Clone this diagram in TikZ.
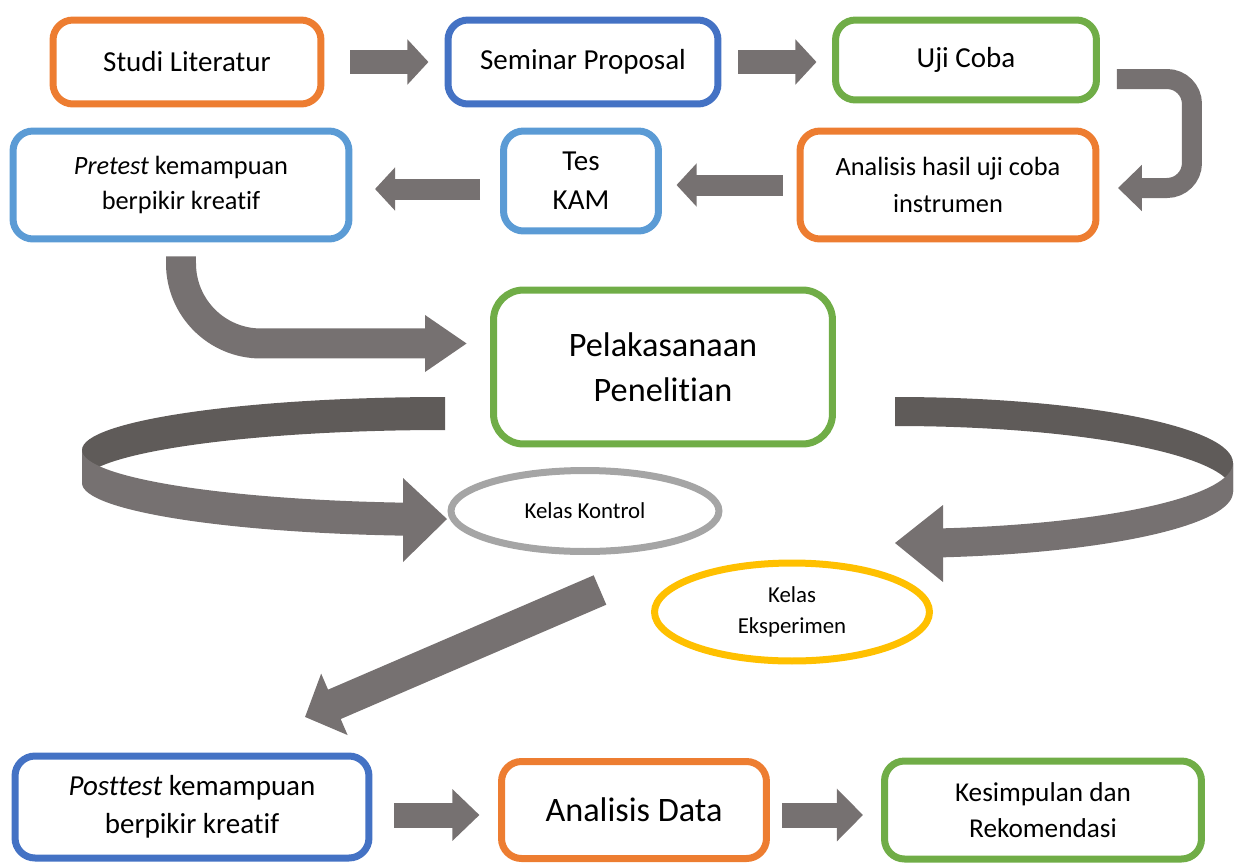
\documentclass[tikz,border=0pt]{standalone}
\usepackage{fontspec}
\setmainfont{Carlito}[Ligatures={NoCommon}]
\usetikzlibrary{arrows.meta,shapes.geometric}
\definecolor{boxorange}{HTML}{ED7D31}
\definecolor{boxblue}{HTML}{4472C4}
\definecolor{boxgreen}{HTML}{70AD47}
\definecolor{boxsky}{HTML}{5B9BD5}
\definecolor{ovalgray}{HTML}{A5A5A5}
\definecolor{ovalgold}{HTML}{FFC000}
\definecolor{arrowgray}{HTML}{767171}
\definecolor{ribbondark}{HTML}{5F5B59}

\begin{document}
\begin{tikzpicture}[x=0.02cm, y=-0.02cm,
	box/.style={draw=#1, line width=0.14cm, rounded corners=0.4cm, align=center, inner sep=2pt},
	oval/.style={draw=#1, line width=0.14cm, ellipse, align=center, inner sep=1pt, font=\fontsize{13}{17.5}\selectfont},
	fatarrow/.style={draw=arrowgray, line width=0.48cm, -{Triangle[length=0.42cm, width=0.88cm]}}]
	\useasboundingbox (0,0) rectangle (1235,863);
	% Nodes:
	\node[box=boxorange, minimum width=5.36cm, minimum height=1.68cm, font=\fontsize{16.5}{22}\selectfont] (studi) at (187,62) {Studi Literatur};
	\node[box=boxblue, minimum width=5.4cm, minimum height=1.68cm, font=\fontsize{16.5}{22}\selectfont] (seminar) at (583,62) {Seminar Proposal};
	\node[box=boxgreen, minimum width=5.22cm, minimum height=1.6cm, font=\fontsize{16.5}{22}\selectfont] (ujicoba) at (966,60) {Uji Coba};
	\node[box=boxorange, minimum width=5.92cm, minimum height=2.16cm, font=\fontsize{15}{21}\selectfont] (hasil) at (948,185) {Analisis hasil uji coba\\instrumen};
	\node[box=boxsky, minimum width=3.1cm, minimum height=2cm, font=\fontsize{16.5}{22}\selectfont] (teskam) at (581,181) {Tes\\KAM};
	\node[box=boxsky, minimum width=6.72cm, minimum height=2.16cm, font=\fontsize{15}{20}\selectfont] (pretest) at (181,185) {\textit{Pretest} kemampuan\\berpikir kreatif};
	\node[box=boxgreen, rounded corners=0.6cm, minimum width=6.78cm, minimum height=3.08cm, font=\fontsize{19.5}{25.5}\selectfont] (pelaksanaan) at (663,367) {Pelakasanaan\\Penelitian};
	\node[oval=ovalgray, minimum width=5.36cm, minimum height=1.62cm] (kontrol) at (585,511) {Kelas Kontrol};
	\node[oval=ovalgold, minimum width=5.5cm, minimum height=1.96cm] (eksperimen) at (792,612) {Kelas\\Eksperimen};
	\node[box=boxblue, minimum width=7.08cm, minimum height=2.04cm, font=\fontsize{16.5}{21.5}\selectfont] (posttest) at (192,807) {\textit{Posttest} kemampuan\\berpikir kreatif};
	\node[box=boxorange, minimum width=5.3cm, minimum height=1.94cm, font=\fontsize{19.5}{25}\selectfont] (analisisdata) at (634,810) {Analisis Data};
	\node[box=boxgreen, minimum width=6.34cm, minimum height=1.96cm, font=\fontsize{15.5}{20.5}\selectfont] (kesimpulan) at (1043,810) {Kesimpulan dan\\Rekomendasi};
	% Block arrows:
	\draw[fatarrow] ([xshift=0.52cm]studi.east) -- ++(78,0);
	\draw[fatarrow] ([xshift=0.34cm]seminar.east) -- ++(78,0);
	\draw[fatarrow, line width=0.42cm, -{Triangle[length=0.4cm, width=0.84cm]}] ([xshift=-0.28cm]hasil.west) -- ++(-106,0);
	\draw[fatarrow, line width=0.42cm, -{Triangle[length=0.4cm, width=0.84cm]}] ([xshift=-0.4cm, yshift=-0.16cm]teskam.west) -- ++(-105,0);
	\draw[fatarrow, line width=0.4cm, rounded corners=0.5cm, -{Triangle[length=0.48cm, width=0.9cm]}] ([xshift=0.34cm, yshift=-0.38cm]ujicoba.east) -- ++(75,0) -- ++(0,109) -- ++(-74,0);
	\draw[fatarrow, line width=0.6cm, rounded corners=1.6cm, -{Triangle[length=0.84cm, width=1.08cm]}] ([yshift=-0.28cm]pretest.south) -- ++(0,87) -- ++(286,0);
	\draw[fatarrow, line width=0.64cm, -{Triangle[length=0.64cm, width=1.3cm]}] ([xshift=0.3cm, yshift=-0.7cm]kontrol.south) -- ++(-295,127);
	\draw[fatarrow, line width=0.5cm, -{Triangle[length=0.54cm, width=1cm]}] ([xshift=0.44cm, yshift=-0.16cm]posttest.east) -- ++(85,0);
	\draw[fatarrow, line width=0.5cm, -{Triangle[length=0.52cm, width=1.02cm]}] ([xshift=0.24cm, yshift=-0.1cm]analisisdata.east) -- ++(81,0);
	% Ribbon arrows round the research step:
	\fill[ribbondark] (445,397) arc[start angle=-90, end angle=-180, x radius=363, y radius=53] -- ++(0,33) arc[start angle=180, end angle=270, x radius=363, y radius=53] -- cycle;
	\fill[arrowgray] (82,450) arc[start angle=180, end angle=96.6, x radius=363, y radius=53] -- ++(0,33) arc[start angle=96.6, end angle=180, x radius=363, y radius=53] -- cycle;
	\fill[arrowgray] (403,478) -- (447,519) -- (403,562) -- cycle;
	\fill[ribbondark] (895,397) arc[start angle=270, end angle=360, x radius=338, y radius=66] -- ++(0,29) arc[start angle=0, end angle=-90, x radius=338, y radius=66] -- cycle;
	\fill[arrowgray] (1233,463) arc[start angle=0, end angle=81.8, x radius=338, y radius=66] -- ++(0,29) arc[start angle=81.8, end angle=0, x radius=338, y radius=66] -- cycle;
	\fill[arrowgray] (943,505) -- (895,543) -- (943,582) -- cycle;
\end{tikzpicture}
\end{document}
